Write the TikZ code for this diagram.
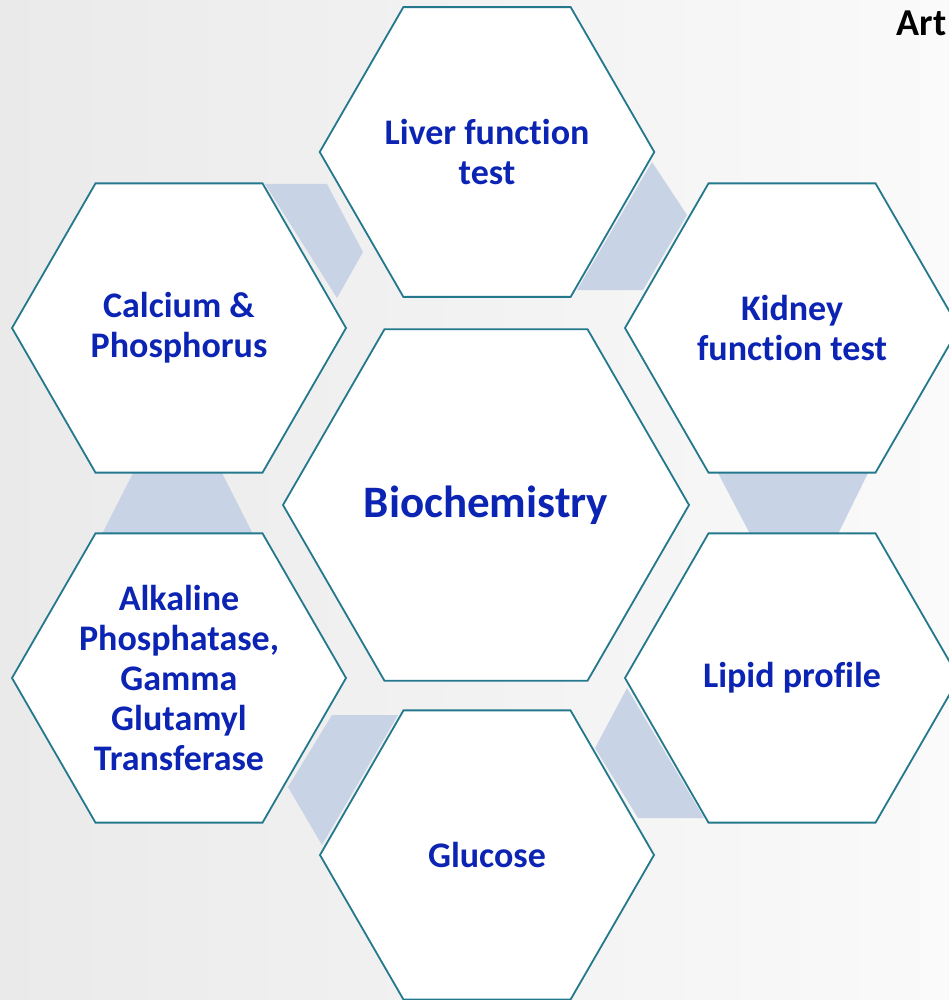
\documentclass[tikz,border=0pt]{standalone}
\usepackage{fontspec}
\setmainfont{Carlito}[Ligatures=NoCommon]
\usetikzlibrary{shapes.geometric}
\definecolor{bandc}{RGB}{200,212,230}
\definecolor{hexline}{RGB}{35,120,140}
\definecolor{txtblue}{RGB}{12,36,180}
\definecolor{bgl}{RGB}{234,234,234}
\definecolor{bgr}{RGB}{250,250,250}
\tikzset{
  hexbox/.style={regular polygon, regular polygon sides=6, draw=hexline, line width=1.8pt,
    fill=white, minimum size=334pt, inner sep=0pt, outer sep=0pt, align=center,
    text=txtblue, font=\fontsize{36}{40}\selectfont\bfseries},
  bighex/.style={hexbox, minimum size=406pt, font=\fontsize{45}{50}\selectfont\bfseries},
  band/.style={fill=bandc, draw=none}
}
\begin{document}
\begin{tikzpicture}[x=1pt,y=-1pt]
\useasboundingbox (0,0) rectangle (949,1000);
\clip (0,0) rectangle (949,1000);
\shade[left color=bgl, right color=bgr] (0,0) rectangle (949,1000);
% bands
\fill[band] (265,184) -- (327,184) -- (363,252) -- (337,298) -- cycle;
\fill[band] (652,162) -- (687,215) -- (643,290) -- (577,290) -- cycle;
\fill[band] (718,473) -- (868,473) -- (838,534) -- (750,534) -- cycle;
\fill[band] (133,473) -- (222,473) -- (253,534) -- (102,534) -- cycle;
\fill[band] (627,688) -- (704,818) -- (638,818) -- (595,748) -- cycle;
\fill[band] (332,715) -- (398,715) -- (322,845) -- (288,787) -- cycle;
% hexagons
\node[hexbox] (liver) at (487,152) {Liver function\\test};
\node[hexbox] (calcium) at (179,328) {Calcium \&\\Phosphorus};
\node[hexbox] (kidney) at (792,328) {Kidney\\function test};
\node[bighex] (bio) at (486,505) {Biochemistry};
\node[hexbox] (alk) at (179,678) {Alkaline\\Phosphatase,\\Gamma\\Glutamyl\\Transferase};
\node[hexbox] (lipid) at (792,678) {Lipid profile};
\node[hexbox] (glucose) at (487,855) {Glucose};
\node[anchor=base west, font=\fontsize{38}{40}\selectfont\bfseries, text=black] (art) at (893,36) {Art};
\end{tikzpicture}
\end{document}
